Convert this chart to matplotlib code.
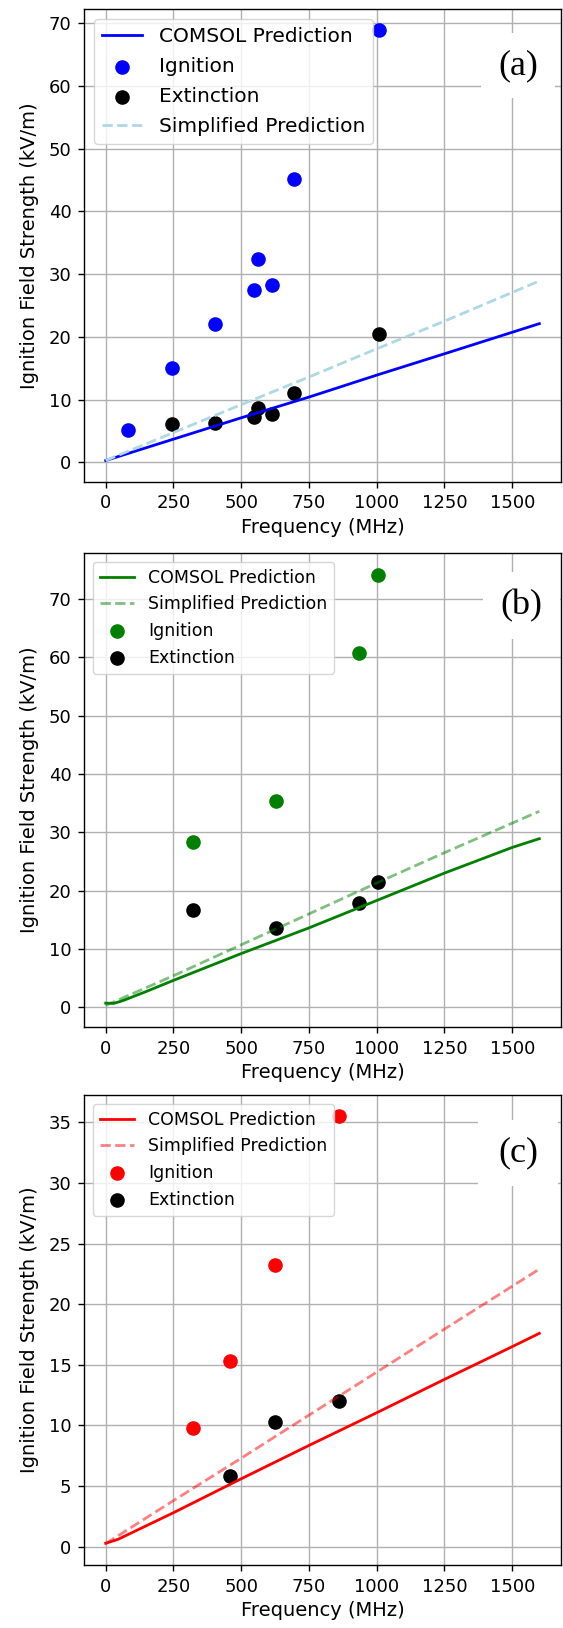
import matplotlib
matplotlib.use("Agg")
import matplotlib.pyplot as plt
from matplotlib.patches import Rectangle

# ── Data ───────────────────────────────────────────────────────────────────
# panel (a)
a_comsol_f = [0, 250, 500, 750, 1000, 1250, 1600]
a_comsol_v = [0.3, 3.7, 7.1, 10.4, 13.9, 17.3, 22.1]
a_simp_f   = [0, 250, 500, 750, 1000, 1250, 1600]
a_simp_v   = [0.3, 4.75, 9.2, 13.6, 18.1, 22.5, 28.9]
a_ign_f    = [83, 243, 404, 546, 563, 612, 694, 1008]
a_ign_v    = [5.2, 15.1, 22.0, 27.4, 32.4, 28.3, 45.2, 68.8]
a_ext_f    = [243, 404, 546, 563, 612, 694, 1008]
a_ext_v    = [6.1, 6.35, 7.25, 8.7, 7.7, 11.1, 20.4]

# panel (b)
b_comsol_f = [0, 30, 65, 150, 250, 500, 750, 1000, 1250, 1500, 1600]
b_comsol_v = [0.7, 0.65, 1.15, 2.7, 4.6, 9.2, 13.6, 18.3, 23.0, 27.4, 28.9]
b_simp_f   = [0, 250, 500, 750, 1000, 1250, 1600]
b_simp_v   = [0.3, 5.4, 10.7, 16.0, 21.3, 26.5, 33.6]
b_ign_f    = [322, 628, 934, 1003]
b_ign_v    = [28.3, 35.3, 60.7, 74.2]
b_ext_f    = [322, 628, 934, 1003]
b_ext_v    = [16.6, 13.6, 17.9, 21.4]

# panel (c)
c_comsol_f = [0, 45, 250, 500, 750, 1000, 1250, 1500, 1600]
c_comsol_v = [0.28, 0.6, 2.8, 5.6, 8.35, 11.05, 13.8, 16.5, 17.6]
c_simp_f   = [0, 250, 500, 750, 1000, 1250, 1600]
c_simp_v   = [0.25, 3.8, 7.3, 10.85, 14.4, 17.95, 22.9]
c_ign_f    = [322, 458, 626, 861]
c_ign_v    = [9.8, 15.3, 23.2, 35.5]
c_ext_f    = [458, 626, 861]
c_ext_v    = [5.86, 10.3, 12.0]

# ── Figure layout (pixels) ─────────────────────────────────────────────────
W, H = 563, 1628
fig = plt.figure(figsize=(W / 100, H / 100), dpi=100)

def rect(top, bottom, left=84, right=561):
    return [left / W, 1 - bottom / H, (right - left) / W, (bottom - top) / H]

ax_a = fig.add_axes(rect(9, 482))
ax_b = fig.add_axes(rect(553, 1027))
ax_c = fig.add_axes(rect(1095, 1565))

S = 90
LW = 2

# (a)
ax_a.plot(a_comsol_f, a_comsol_v, color='blue', lw=LW, label='COMSOL Prediction')
ax_a.scatter(a_ign_f, a_ign_v, s=S, color='blue', label='Ignition')
ax_a.scatter(a_ext_f, a_ext_v, s=S, color='black', label='Extinction')
ax_a.plot(a_simp_f, a_simp_v, color='lightblue', lw=LW, ls='--', label='Simplified Prediction')
ax_a.set_yticks([0, 10, 20, 30, 40, 50, 60, 70])
ax_a.legend(loc='upper left', fontsize=14.5, labelspacing=0.55)

# (b)
ax_b.plot(b_comsol_f, b_comsol_v, color='green', lw=LW, label='COMSOL Prediction')
ax_b.plot(b_simp_f, b_simp_v, color='green', alpha=0.5, lw=LW, ls='--', label='Simplified Prediction')
ax_b.scatter(b_ign_f, b_ign_v, s=S, color='green', label='Ignition')
ax_b.scatter(b_ext_f, b_ext_v, s=S, color='black', label='Extinction')
ax_b.set_yticks([0, 10, 20, 30, 40, 50, 60, 70])
ax_b.legend(loc='upper left', fontsize=12.5)

# (c)
ax_c.plot(c_comsol_f, c_comsol_v, color='red', lw=LW, label='COMSOL Prediction')
ax_c.plot(c_simp_f, c_simp_v, color='red', alpha=0.5, lw=LW, ls='--', label='Simplified Prediction')
ax_c.scatter(c_ign_f, c_ign_v, s=S, color='red', label='Ignition')
ax_c.scatter(c_ext_f, c_ext_v, s=S, color='black', label='Extinction')
ax_c.set_yticks([0, 5, 10, 15, 20, 25, 30, 35])
ax_c.legend(loc='upper left', fontsize=12.5)

for ax in (ax_a, ax_b, ax_c):
    ax.set_xticks([0, 250, 500, 750, 1000, 1250, 1500])
    ax.grid(True, color='#b0b0b0', lw=1.0)
    ax.set_axisbelow(True)
    ax.tick_params(labelsize=13, length=4.5, width=1, pad=4.5)
    for sp in ax.spines.values():
        sp.set_linewidth(1.0)
    ax.set_xlabel('Frequency (MHz)', fontsize=14, labelpad=4)
    ax.set_ylabel('Ignition Field Strength (kV/m)', fontsize=14, labelpad=7)

# ── Panel letters on white boxes (figure pixels) ──────────────────────────
letters = [('(a)', 481, 33, 74, 65), ('(b)', 483, 572, 77, 67), ('(c)', 478, 1120, 80, 66)]
for txt, x0, y0, w, h in letters:
    fig.add_artist(Rectangle((x0 / W, 1 - (y0 + h) / H), w / W, h / H,
                             transform=fig.transFigure, fc='white', ec='none', zorder=5))
    fig.text((x0 + w / 2) / W, 1 - (y0 + h / 2) / H, txt, family='Liberation Serif',
             fontsize=26, ha='center', va='center', zorder=6)

fig.savefig('out.png', dpi=100)
